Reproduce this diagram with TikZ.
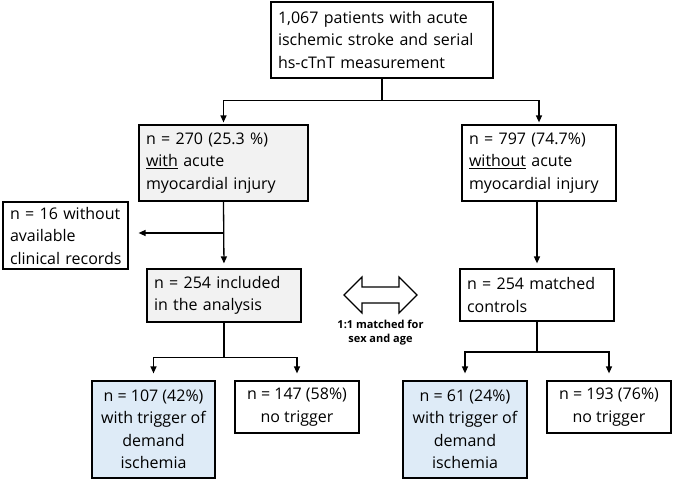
\documentclass[tikz,border=0pt]{standalone}
\usepackage{fontspec}
\setmainfont{Open Sans}
\usetikzlibrary{arrows.meta,calc}
\definecolor{grayfill}{HTML}{F2F2F2}
\definecolor{bluefill}{HTML}{DEEBF7}
\begin{document}
\begin{tikzpicture}[x=1pt,y=-1pt,
  box/.style={draw=black,line width=1.2pt,inner xsep=7pt,inner ysep=2pt,
     font=\fontsize{16}{22.5}\selectfont},
  lbox/.style={box,align=left},
  cbox/.style={box,align=center},
  conn/.style={line width=1.3pt,-{Triangle[length=7pt,width=6pt]}},
  plainline/.style={line width=1.3pt},
  capt/.style={font=\fontsize{11}{14}\selectfont\bfseries,align=center}
]
\useasboundingbox (0,0) rectangle (675,484);
\newcommand{\lbx}[7]{% name, fill, cx, cy, w, h, text
  \node[lbox,fill=#2,minimum width=#5pt,minimum height=#6pt,text width=#5pt-14pt] (#1) at (#3,#4) {#7};}
\newcommand{\cbx}[7]{% name, fill, cx, cy, w, h, text
  \node[cbox,fill=#2,minimum width=#5pt,minimum height=#6pt] (#1) at (#3,#4) {#7};}
\newcommand{\tline}[1]{\mbox{#1}}
\lbx{top}{white}{382}{40}{222}{76}{\tline{1,067 patients with acute}\\\tline{ischemic stroke and serial}\\\tline{hs-cTnT measurement}}
\lbx{g270}{grayfill}{223.5}{163}{169}{76}{\tline{n = 270 (25.3 \%)}\\\tline{\underline{with} acute}\\\tline{myocardial injury}}
\lbx{r797}{white}{539}{163}{154}{76}{\tline{n = 797 (74.7\%)}\\\tline{\underline{without} acute}\\\tline{myocardial injury}}
\lbx{side}{white}{65.5}{235.5}{125}{67}{\tline{n = 16 without}\\\tline{available}\\\tline{clinical records}}
\lbx{g254}{grayfill}{224}{295.5}{154}{53}{\tline{n = 254 included}\\\tline{in the analysis}}
\lbx{r254}{white}{537}{295}{154}{52}{\tline{n = 254 matched}\\\tline{controls}}
\cbx{b107}{bluefill}{153.5}{429.5}{123}{97}{n = 107 (42\%)\\with trigger of\\demand\\ischemia}
\cbx{w147}{white}{297}{407}{124}{52}{n = 147 (58\%)\\no trigger}
\cbx{b61}{bluefill}{465}{429.5}{124}{97}{n = 61 (24\%)\\with trigger of\\demand\\ischemia}
\cbx{w193}{white}{609}{407}{124}{52}{n = 193 (76\%)\\no trigger}

% top split
\coordinate (j1) at (382,100.5);
\draw[plainline] (top.south) -- (j1);
\draw[conn,shorten >=2pt] (j1) -| (g270.north);
\draw[conn,shorten >=2pt] (j1) -| (r797.north);
% left trunk
\draw[conn,shorten >=5pt] (g270.south) -- (g254.north);
\coordinate (sj) at (g270.south |- 0,233);
\draw[conn,shorten >=10pt] (sj) -- (side.east |- sj);
% right trunk
\draw[conn,shorten >=5pt] (r797.south -| r254.north) -- (r254.north);
% bottom left split
\coordinate (j2) at (224,357.5);
\draw[plainline] (g254.south) -- (j2);
\draw[conn,shorten >=7pt] (j2) -| (b107.north);
\draw[conn,shorten >=7pt] (j2) -| (w147.north);
% bottom right split
\coordinate (j3) at (537,352);
\draw[plainline] (r254.south) -- (j3);
\draw[conn,shorten >=7pt] (j3) -| (b61.north);
\draw[conn,shorten >=7pt] (j3) -| (w193.north);

% double arrow
\draw[line width=1.2pt,fill=white] (344,295) -- (362,277) -- (362,287) -- (399,287) -- (399,277) -- (417,295) -- (399,313) -- (399,303) -- (362,303) -- (362,313) -- cycle;
\node[capt] (mcap) at (380.5,333) {1:1 matched for\\sex and age};
\end{tikzpicture}
\end{document}
